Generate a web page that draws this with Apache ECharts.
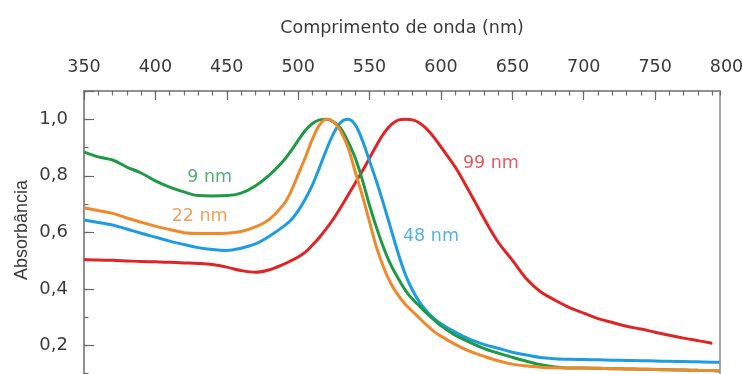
<!DOCTYPE html>
<html>
<head>
<meta charset="utf-8">
<script src="https://cdn.jsdelivr.net/npm/echarts@6/dist/echarts.min.js"></script>
<style>
  html, body { margin: 0; padding: 0; background: #ffffff; }
  #chart { width: 742px; height: 374px; }
</style>
</head>
<body>
<div id="chart"></div>
<script>
// Wavelength samples (nm) shared by every spectrum
const wavelengths = [350, 360, 370, 380, 390, 400, 410, 420, 430, 440, 450, 460, 470, 480,
  490, 495, 500, 505, 510, 515, 520, 525, 530, 535, 540, 545, 550, 555, 560, 565, 570, 575,
  580, 585, 590, 595, 600, 610, 620, 630, 640, 650, 660, 670, 680, 690, 700, 710, 720, 730,
  740, 750, 760, 770, 780, 790, 795];

// Normalised absorbance for each particle diameter
const abs9nm = [0.885, 0.867, 0.856, 0.831, 0.810, 0.782, 0.760, 0.743, 0.730, 0.729, 0.730, 0.739, 0.764, 0.803,
  0.855, 0.888, 0.925, 0.960, 0.985, 0.998, 1.000, 0.990, 0.966, 0.920, 0.863, 0.785, 0.695, 0.615, 0.544, 0.484, 0.438, 0.396,
  0.364, 0.339, 0.314, 0.291, 0.270, 0.236, 0.212, 0.190, 0.173, 0.158, 0.144, 0.132, 0.124, 0.120, 0.120, 0.119, 0.118, 0.117,
  0.116, 0.115, 0.114, 0.113, 0.112, 0.111, 0.110];

const abs22nm = [0.687, 0.677, 0.667, 0.651, 0.636, 0.622, 0.610, 0.599, 0.596, 0.596, 0.597, 0.603, 0.619, 0.647,
  0.700, 0.745, 0.805, 0.865, 0.930, 0.980, 1.000, 0.990, 0.955, 0.899, 0.814, 0.729, 0.637, 0.545, 0.474, 0.418, 0.378, 0.346,
  0.321, 0.296, 0.272, 0.250, 0.233, 0.204, 0.180, 0.162, 0.146, 0.134, 0.127, 0.123, 0.121, 0.120, 0.120, 0.119, 0.118, 0.117,
  0.116, 0.115, 0.114, 0.113, 0.112, 0.111, 0.110];

const abs48nm = [0.644, 0.635, 0.626, 0.612, 0.597, 0.583, 0.569, 0.557, 0.546, 0.539, 0.536, 0.544, 0.559, 0.587,
  0.622, 0.644, 0.676, 0.718, 0.768, 0.830, 0.895, 0.952, 0.990, 1.000, 0.980, 0.925, 0.852, 0.778, 0.697, 0.612, 0.527, 0.452,
  0.396, 0.353, 0.321, 0.296, 0.277, 0.247, 0.222, 0.204, 0.190, 0.176, 0.166, 0.157, 0.153, 0.151, 0.150, 0.149, 0.148, 0.147,
  0.146, 0.145, 0.144, 0.143, 0.142, 0.141, 0.141];

const abs99nm = [0.504, 0.502, 0.501, 0.499, 0.497, 0.496, 0.494, 0.492, 0.490, 0.486, 0.477, 0.465, 0.459, 0.468,
  0.488, 0.500, 0.513, 0.530, 0.555, 0.583, 0.615, 0.650, 0.690, 0.732, 0.775, 0.817, 0.863, 0.909, 0.950, 0.980, 0.997, 1.000,
  0.998, 0.987, 0.966, 0.937, 0.902, 0.831, 0.743, 0.651, 0.566, 0.502, 0.435, 0.389, 0.360, 0.334, 0.314, 0.295, 0.281, 0.268,
  0.258, 0.247, 0.236, 0.226, 0.217, 0.208, null];

// Wavelength tick labels and the long tick marks under them
const wavelengthLabels = [350, 400, 450, 500, 550, 600, 650, 700, 750, 800];
const majorTicks = [350, 400, 450, 500, 550, 600, 650, 700, 750];

// Curve captions, anchored in data units (nm, absorbance)
const captions = [
  { text: '9 nm',  nm: 438, abs: 0.793 },
  { text: '22 nm', nm: 431, abs: 0.658 },
  { text: '48 nm', nm: 593, abs: 0.587 },
  { text: '99 nm', nm: 635, abs: 0.842 }
];

const lineColors = ['#1f9a44', '#f0892b', '#1d9de0', '#df2426'];
const captionColors = ['#2d9a4c', '#ef8a34', '#2a9de0', '#de3035'];

// Layout
const LEFT = 84, TOP = 91;
const AXIS_END = 726.5;      // pixel position of 800 nm
const FRAME_END = 720;       // right border of the plot frame
const Y_MAX = 1.1, Y_MIN = 0;
const GRID_HEIGHT = 311;
const X_MIN = 350, X_MAX = 800;
const frameXMax = X_MIN + (FRAME_END - LEFT) / (AXIS_END - LEFT) * (X_MAX - X_MIN);

const textColor = '#3a3a3a';
const frameColor = '#8a8a8a';
const tickColor = '#6a6a6a';

function lineSeries(name, values, color) {
  return {
    name: name,
    type: 'line',
    xAxisIndex: 0,
    yAxisIndex: 0,
    data: wavelengths.map((w, i) => [w, values[i]]),
    smooth: 0.35,
    showSymbol: false,
    lineStyle: { width: 3, color: color },
    itemStyle: { color: color },
    emphasis: { disabled: true }
  };
}

const chart = echarts.init(document.getElementById('chart'), null, { renderer: 'canvas' });

chart.setOption({
  animation: false,
  grid: [
    // plot frame: spectra, minor ticks and border
    {
      left: LEFT, top: TOP, width: FRAME_END - LEFT, height: GRID_HEIGHT,
      outerBoundsMode: 'none', show: true, borderColor: frameColor, borderWidth: 1.5
    },
    // wavelength labels over 350-800 nm, major ticks and absorbance labels
    {
      left: LEFT, top: TOP, width: AXIS_END - LEFT, height: GRID_HEIGHT,
      outerBoundsMode: 'none'
    }
  ],
  xAxis: [
    {
      gridIndex: 0, type: 'value', position: 'top',
      min: X_MIN, max: frameXMax, interval: 10,
      axisLine: { show: true, onZero: false, lineStyle: { color: frameColor, width: 1.5 } },
      axisTick: { show: true, inside: true, length: 4.5, lineStyle: { color: tickColor, width: 1.2 } },
      axisLabel: { show: false },
      splitLine: { show: false }
    },
    {
      gridIndex: 1, type: 'value', position: 'top',
      min: X_MIN, max: X_MAX, interval: 50,
      axisLine: { show: false, onZero: false },
      axisTick: {
        show: true, inside: true, length: 9, customValues: majorTicks,
        lineStyle: { color: tickColor, width: 1.2 }
      },
      axisLabel: {
        show: true, margin: 15, color: textColor, fontFamily: 'DejaVu Sans', fontSize: 17.5,
        customValues: wavelengthLabels, showMinLabel: true, showMaxLabel: true
      },
      splitLine: { show: false }
    }
  ],
  yAxis: [
    {
      gridIndex: 0, type: 'value', position: 'left',
      min: Y_MIN, max: Y_MAX, interval: 0.1,
      axisLine: { show: true, onZero: false, lineStyle: { color: frameColor, width: 1.5 } },
      axisTick: { show: true, inside: true, length: 4.5, lineStyle: { color: tickColor, width: 1.2 } },
      axisLabel: { show: false },
      splitLine: { show: false }
    },
    {
      gridIndex: 1, type: 'value', position: 'left',
      min: Y_MIN, max: Y_MAX, interval: 0.2,
      axisLine: { show: false, onZero: false },
      axisTick: { show: true, inside: true, length: 10, lineStyle: { color: tickColor, width: 1.2 } },
      axisLabel: {
        show: true, margin: 16, color: textColor, fontFamily: 'DejaVu Sans', fontSize: 18,
        formatter: function (v) {
          const k = Math.round(v * 10);
          if (k <= 0 || k > 10 || k % 2 !== 0) return '';
          return (k / 10).toFixed(1).replace('.', ',');
        }
      },
      splitLine: { show: false }
    }
  ],
  graphic: [
    {
      type: 'text', x: (LEFT + FRAME_END) / 2, y: 28,
      style: {
        text: 'Comprimento de onda (nm)', fill: textColor,
        font: '17.5px "DejaVu Sans"', align: 'center', verticalAlign: 'middle'
      }
    },
    {
      type: 'text', x: 22, y: 230, rotation: Math.PI / 2,
      style: {
        text: 'Absorbância', fill: textColor,
        font: '18px "Liberation Sans"', align: 'center', verticalAlign: 'middle'
      }
    }
  ],
  series: [
    lineSeries('99 nm', abs99nm, lineColors[3]),
    lineSeries('48 nm', abs48nm, lineColors[2]),
    lineSeries('9 nm', abs9nm, lineColors[0]),
    lineSeries('22 nm', abs22nm, lineColors[1]),
    {
      name: 'captions',
      type: 'scatter',
      xAxisIndex: 0,
      yAxisIndex: 0,
      symbolSize: 0,
      silent: true,
      data: captions.map((c, i) => ({
        value: [c.nm, c.abs],
        name: c.text,
        label: {
          show: true, position: 'inside', formatter: '{b}',
          color: captionColors[i], fontFamily: 'DejaVu Sans', fontSize: 17.5
        }
      }))
    }
  ]
});
</script>
</body>
</html>
